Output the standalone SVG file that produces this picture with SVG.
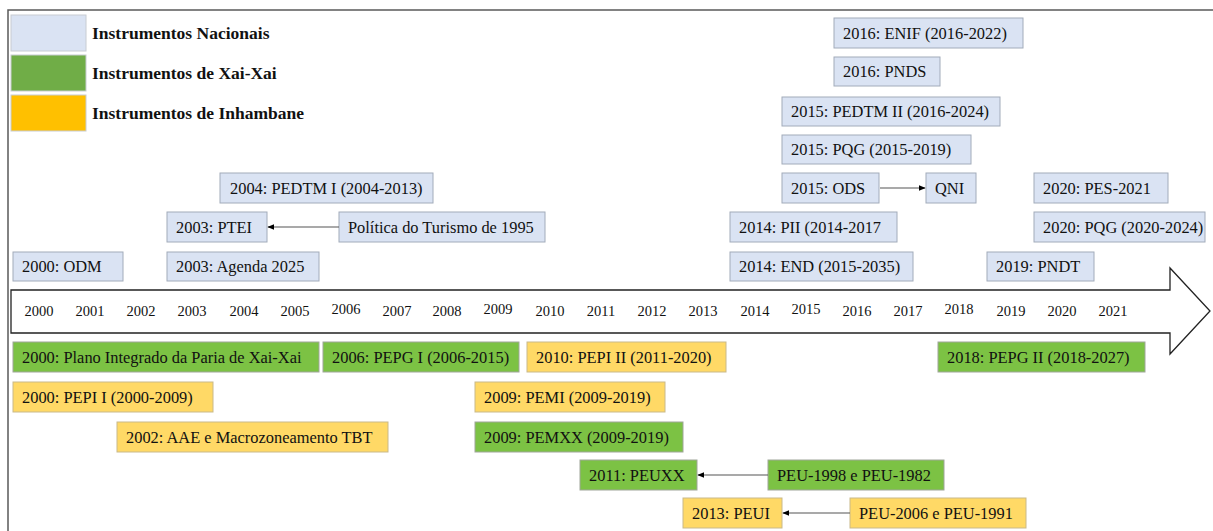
<svg xmlns="http://www.w3.org/2000/svg" width="1213" height="531" viewBox="0 0 1213 531">
  <style>
    text { font-family: "Liberation Serif", "Times New Roman", serif; fill: #111; }
    .lbl { font-family: "Liberation Serif", "Times New Roman", serif; font-size: 16.4px; }
    .yr { font-family: "Liberation Serif", "Times New Roman", serif; font-size: 14.5px; text-anchor: middle; }
    .leg { font-family: "Liberation Serif", "Times New Roman", serif; font-size: 17.5px; font-weight: bold; }
    .nat { fill: #dae3f3; stroke: #a2abba; stroke-width: 1; }
    .xx { fill: #7cc244; stroke: #9fa69a; stroke-width: 1; }
    .inh { fill: #ffd966; stroke: #c9b98a; stroke-width: 1; }
    .link { stroke: #555; stroke-width: 1.2; fill: none; marker-end: url(#head); }
  </style>
  <defs>
    <marker id="head" viewBox="0 0 10 10" refX="9" refY="5" markerWidth="7" markerHeight="7" orient="auto" markerUnits="userSpaceOnUse">
      <path d="M0,1 L10,5 L0,9 Z" fill="#000"/>
    </marker>
  </defs>

  <rect width="1213" height="531" fill="#fff"/>
  <!-- frame lines -->
  <path d="M8,531 V10 H1213" fill="none" stroke="#5a5a5a" stroke-width="1.5"/>

  <!-- legend -->
  <g id="legend">
    <rect x="11" y="15" width="75" height="36" fill="#dae3f3" stroke="#c8ccd2"/>
    <rect x="11" y="55" width="75" height="36" fill="#70ad47" stroke="#c8ccd2"/>
    <rect x="11" y="95" width="75" height="36" fill="#ffc000" stroke="#c8ccd2"/>
    <text class="leg" x="92" y="39">Instrumentos Nacionais</text>
    <text class="leg" x="92" y="79">Instrumentos de Xai-Xai</text>
    <text class="leg" x="92" y="119">Instrumentos de Inhambane</text>
  </g>

  <!-- timeline arrow -->
  <g id="timeline">
    <path d="M11,290 H1170 V268 L1210,311 L1170,354 V333 H11 Z" fill="#fff" stroke="#222" stroke-width="1.3"/>
    <text class="yr" x="39" y="316">2000</text>
    <text class="yr" x="90" y="316">2001</text>
    <text class="yr" x="141" y="316">2002</text>
    <text class="yr" x="192" y="316">2003</text>
    <text class="yr" x="244" y="316">2004</text>
    <text class="yr" x="295" y="316">2005</text>
    <text class="yr" x="346" y="314">2006</text>
    <text class="yr" x="397" y="316">2007</text>
    <text class="yr" x="447" y="316">2008</text>
    <text class="yr" x="498" y="314">2009</text>
    <text class="yr" x="550" y="316">2010</text>
    <text class="yr" x="601" y="316">2011</text>
    <text class="yr" x="652" y="316">2012</text>
    <text class="yr" x="703" y="316">2013</text>
    <text class="yr" x="755" y="316">2014</text>
    <text class="yr" x="806" y="314">2015</text>
    <text class="yr" x="857" y="316">2016</text>
    <text class="yr" x="908" y="316">2017</text>
    <text class="yr" x="959" y="314">2018</text>
    <text class="yr" x="1011" y="316">2019</text>
    <text class="yr" x="1062" y="316">2020</text>
    <text class="yr" x="1113" y="316">2021</text>
  </g>

  <!-- national instruments -->
  <g id="enif"><rect class="nat" x="834" y="18" width="189" height="30"/><text class="lbl" x="843" y="39">2016: ENIF (2016-2022)</text></g>
  <g id="pnds"><rect class="nat" x="834" y="57" width="106" height="29"/><text class="lbl" x="843" y="77">2016: PNDS</text></g>
  <g id="pedtm2"><rect class="nat" x="782" y="97" width="218" height="29"/><text class="lbl" x="791" y="117">2015: PEDTM II (2016-2024)</text></g>
  <g id="pqg2015"><rect class="nat" x="782" y="135" width="189" height="29"/><text class="lbl" x="791" y="155">2015: PQG (2015-2019)</text></g>
  <g id="ods"><rect class="nat" x="782" y="173" width="97" height="30"/><text class="lbl" x="791" y="194">2015: ODS</text></g>
  <g id="qni"><rect class="nat" x="926" y="173" width="50" height="30"/><text class="lbl" x="935" y="194">QNI</text></g>
  <g id="pes2021"><rect class="nat" x="1034" y="173" width="134" height="30"/><text class="lbl" x="1043" y="194">2020: PES-2021</text></g>
  <g id="pii"><rect class="nat" x="730" y="212" width="167" height="30"/><text class="lbl" x="739" y="233">2014: PII (2014-2017</text></g>
  <g id="pqg2020"><rect class="nat" x="1034" y="212" width="171" height="30"/><text class="lbl" x="1043" y="233">2020: PQG (2020-2024)</text></g>
  <g id="end"><rect class="nat" x="730" y="252" width="183" height="29"/><text class="lbl" x="739" y="272">2014: END (2015-2035)</text></g>
  <g id="pndt"><rect class="nat" x="987" y="252" width="107" height="29"/><text class="lbl" x="996" y="272">2019: PNDT</text></g>
  <g id="pedtm1"><rect class="nat" x="220" y="173" width="213" height="30"/><text class="lbl" x="230" y="194">2004: PEDTM I (2004-2013)</text></g>
  <g id="ptei"><rect class="nat" x="167" y="212" width="100" height="30"/><text class="lbl" x="176" y="233">2003: PTEI</text></g>
  <g id="turismo"><rect class="nat" x="339" y="212" width="206" height="30"/><text class="lbl" x="348" y="233">Política do Turismo de 1995</text></g>
  <g id="odm"><rect class="nat" x="13" y="252" width="110" height="29"/><text class="lbl" x="22" y="272">2000: ODM</text></g>
  <g id="agenda"><rect class="nat" x="167" y="252" width="152" height="29"/><text class="lbl" x="176" y="272">2003: Agenda 2025</text></g>

  <!-- Xai-Xai and Inhambane instruments -->
  <g id="plano"><rect class="xx" x="13" y="342" width="306" height="30"/><text class="lbl" x="22" y="363">2000: Plano Integrado da Paria de Xai-Xai</text></g>
  <g id="pepg1"><rect class="xx" x="323" y="342" width="196" height="30"/><text class="lbl" x="332" y="363">2006: PEPG I (2006-2015)</text></g>
  <g id="pepi2"><rect class="inh" x="527" y="342" width="199" height="30"/><text class="lbl" x="536" y="363">2010: PEPI II (2011-2020)</text></g>
  <g id="pepg2"><rect class="xx" x="938" y="342" width="207" height="30"/><text class="lbl" x="947" y="363">2018: PEPG II (2018-2027)</text></g>
  <g id="pepi1"><rect class="inh" x="13" y="382" width="200" height="30"/><text class="lbl" x="22" y="403">2000: PEPI I (2000-2009)</text></g>
  <g id="pemi"><rect class="inh" x="475" y="382" width="190" height="30"/><text class="lbl" x="484" y="403">2009: PEMI (2009-2019)</text></g>
  <g id="aae"><rect class="inh" x="117" y="422" width="271" height="30"/><text class="lbl" x="126" y="443">2002: AAE e Macrozoneamento TBT</text></g>
  <g id="pemxx"><rect class="xx" x="475" y="422" width="208" height="30"/><text class="lbl" x="484" y="443">2009: PEMXX (2009-2019)</text></g>
  <g id="peuxx"><rect class="xx" x="580" y="460" width="117" height="30"/><text class="lbl" x="589" y="481">2011: PEUXX</text></g>
  <g id="peu1998"><rect class="xx" x="768" y="460" width="176" height="30"/><text class="lbl" x="777" y="481">PEU-1998 e PEU-1982</text></g>
  <g id="peui"><rect class="inh" x="683" y="498" width="99" height="30"/><text class="lbl" x="692" y="519">2013: PEUI</text></g>
  <g id="peu2006"><rect class="inh" x="850" y="498" width="176" height="30"/><text class="lbl" x="859" y="519">PEU-2006 e PEU-1991</text></g>

  <!-- connectors -->
  <g id="connectors">
    <line class="link" x1="339" y1="227" x2="268" y2="227"/>
    <line class="link" x1="880" y1="188" x2="925" y2="188"/>
    <line class="link" x1="768" y1="475" x2="698" y2="475"/>
    <line class="link" x1="850" y1="513" x2="783" y2="513"/>
  </g>
</svg>
